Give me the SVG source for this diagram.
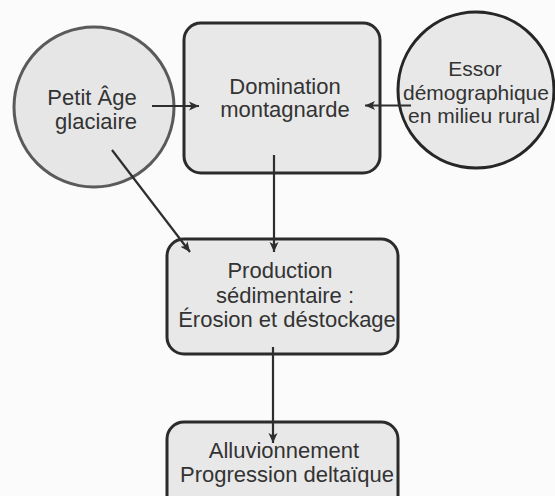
<svg xmlns="http://www.w3.org/2000/svg" width="555" height="496" viewBox="0 0 555 496">
  <defs>
    <marker id="arr" viewBox="0 0 10 10" refX="10" refY="5" markerWidth="10" markerHeight="10" markerUnits="userSpaceOnUse" orient="auto">
      <path d="M0,0.5 L10,5 L0,9.5 L2.5,5 Z" fill="#2e2e2e"/>
    </marker>
  </defs>
  <style>
    .bg { fill: #fbfbfb; }
    .box { fill: #e8e8e8; stroke: #2b2b2b; stroke-width: 3; }
    .circ-l { fill: #e6e6e6; stroke: #5a5a5a; stroke-width: 3; }
    .circ-r { fill: #e8e8e8; stroke: #262626; stroke-width: 3; }
    .lbl { font-family: "Liberation Sans", Arial, sans-serif; font-size: 22px; fill: #333333; text-anchor: middle; }
    .lbl-s { font-family: "Liberation Sans", Arial, sans-serif; font-size: 21px; fill: #333333; text-anchor: middle; }
    .edge { fill: none; stroke: #2e2e2e; stroke-width: 2.2; marker-end: url(#arr); }
  </style>
  <rect class="bg" x="0" y="0" width="555" height="496"/>

  <g id="node-petit-age">
    <circle class="circ-l" cx="94" cy="107" r="80"/>
    <text class="lbl" x="92" y="105">Petit Âge</text>
    <text class="lbl" x="96" y="128.5">glaciaire</text>
  </g>

  <g id="node-domination">
    <rect class="box" x="184" y="23" width="196" height="150" rx="17" ry="17"/>
    <text class="lbl" x="285" y="93.5">Domination</text>
    <text class="lbl" x="285" y="116.5">montagnarde</text>
  </g>

  <g id="node-essor">
    <circle class="circ-r" cx="476" cy="90" r="78"/>
    <text class="lbl-s" x="475" y="76">Essor</text>
    <text class="lbl-s" x="476" y="99.5">démographique</text>
    <text class="lbl-s" x="474" y="122.5">en milieu rural</text>
  </g>

  <g id="node-production">
    <rect class="box" x="167" y="239" width="231" height="115" rx="17" ry="17"/>
    <text class="lbl" x="280" y="278">Production</text>
    <text class="lbl" x="285" y="302.5">sédimentaire :</text>
    <text class="lbl" x="287" y="327">Érosion et déstockage</text>
  </g>

  <g id="node-alluvionnement">
    <rect class="box" x="167" y="422" width="231" height="110" rx="17" ry="17"/>
    <text class="lbl" x="284" y="458">Alluvionnement</text>
    <text class="lbl" x="287" y="481.5">Progression deltaïque</text>
  </g>

  <g id="connectors">
    <line class="edge" x1="152" y1="106" x2="199" y2="106"/>
    <line class="edge" x1="411" y1="105.5" x2="365" y2="105.5"/>
    <line class="edge" x1="274" y1="155" x2="274" y2="252"/>
    <line class="edge" x1="112" y1="150" x2="190" y2="252"/>
    <line class="edge" x1="273" y1="347" x2="273" y2="443"/>
  </g>
</svg>
